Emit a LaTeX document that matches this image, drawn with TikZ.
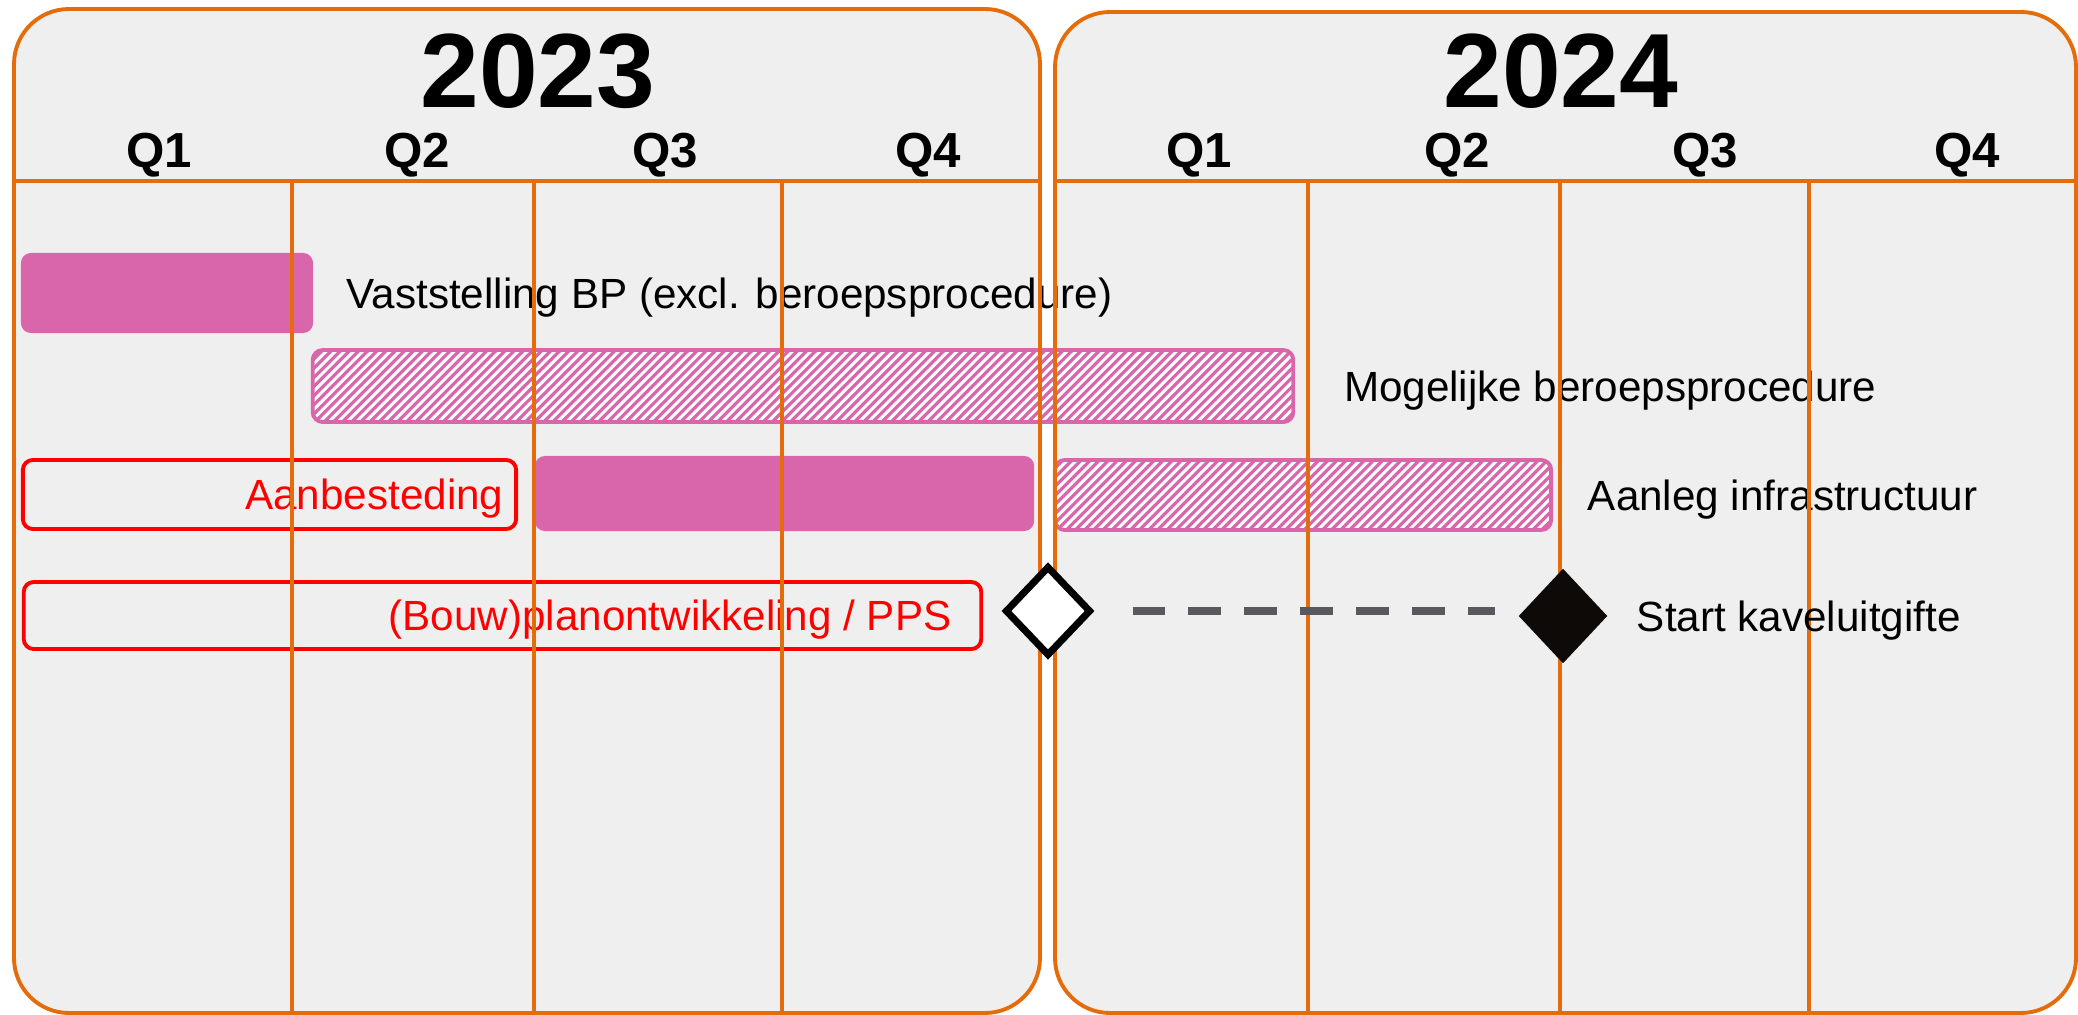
\documentclass[tikz,border=0pt]{standalone}
\usepackage{fontspec}
\setmainfont{Liberation Sans}
\usetikzlibrary{positioning,shapes.geometric}
\definecolor{planorange}{RGB}{228,108,10}
\definecolor{planpink}{RGB}{217,102,171}
\definecolor{planred}{RGB}{255,0,0}
\definecolor{planback}{RGB}{239,239,239}
\definecolor{dashgrey}{RGB}{88,89,94}
\definecolor{milestone}{RGB}{13,10,8}
\tikzset{
  panelbg/.style={fill=planback,rounded corners=0.55cm},
  panelrim/.style={draw=planorange,line width=1.1pt,rounded corners=0.55cm},
  qline/.style={draw=planorange,line width=0.95pt},
  headline/.style={draw=planorange,line width=1.2pt},
  year/.style={font=\fontsize{30}{32}\selectfont\bfseries,inner sep=0pt,anchor=base},
  quarter/.style={font=\fontsize{14}{16}\selectfont\bfseries,inner sep=0pt,anchor=base},
  solidbar/.style={fill=planpink,rounded corners=0.1cm,inner sep=0pt,outer sep=0pt},
  hatchbar/.style={draw=planpink,line width=1.1pt,fill=white,rounded corners=0.1cm,inner sep=0pt,outer sep=0pt,
    path picture={\foreach \k in {0,...,125}
      \draw[planpink,line width=0.9pt,sharp corners] ([xshift=\k*2.6pt-0.8cm]path picture bounding box.south west) -- ++(1cm,1cm);}},
  redbox/.style={draw=planred,line width=1.1pt,rounded corners=0.1cm,inner sep=0pt,outer sep=0pt},
  lbl/.style={font=\fontsize{12}{14}\selectfont,inner sep=0pt,yshift=-0.045cm},
  redlbl/.style={lbl,text=planred,anchor=east},
  openmile/.style={diamond,draw=black,fill=white,line width=2pt,inner sep=0pt},
  closedmile/.style={diamond,fill=milestone,inner sep=0pt},
  future/.style={draw=dashgrey,line width=2pt,dash pattern=on 9.2pt off 6.7pt}
}
\begin{document}
\begin{tikzpicture}[x=0.01cm,y=-0.01cm]
\useasboundingbox (0,0) rectangle (2078,1015);
\path[panelbg] (14,9) rectangle (1040,1013);
\path[panelbg] (1055,12) rectangle (2076,1013);
\node[year] (y2023) at (538,107) {2023};
\node[year] (y2024) at (1561,107) {2024};
\node[quarter] (q1a) at (159,167) {Q1};
\node[quarter] (q2a) at (417,167) {Q2};
\node[quarter] (q3a) at (665,167) {Q3};
\node[quarter] (q4a) at (928,167) {Q4};
\node[quarter] (q1b) at (1199,167) {Q1};
\node[quarter] (q2b) at (1457,167) {Q2};
\node[quarter] (q3b) at (1705,167) {Q3};
\node[quarter] (q4b) at (1967,167) {Q4};
\node[solidbar,minimum width=2.92cm,minimum height=0.8cm] (vast) at (167,293) {};
\node[lbl,right=0.33cm of vast] (vastlbl) {Vaststelling BP (excl. beroepsprocedure)};
\node[hatchbar,minimum width=9.8cm,minimum height=0.72cm] (beroep) at (803,386) {};
\node[lbl,right=0.5cm of beroep] (beroeplbl) {Mogelijke beroepsprocedure};
\node[redbox,minimum width=4.93cm,minimum height=0.69cm] (aanb) at (269.5,494.5) {};
\node[redlbl] (aanblbl) at ([xshift=-0.12cm]aanb.east) {Aanbesteding};
\node[solidbar,minimum width=4.99cm,minimum height=0.75cm] (aanbbar) at (784.5,493.5) {};
\node[hatchbar,minimum width=4.96cm,minimum height=0.7cm] (aanleg) at (1303,495) {};
\node[lbl,right=0.36cm of aanleg] (aanleglbl) {Aanleg infrastructuur};
\node[redbox,minimum width=9.57cm,minimum height=0.67cm] (bouw) at (502.5,615.5) {};
\node[redlbl] (bouwlbl) at ([xshift=-0.29cm]bouw.east) {(Bouw)planontwikkeling / PPS};
\draw[panelrim] (14,9) rectangle (1040,1013);
\draw[panelrim] (1055,12) rectangle (2076,1013);
\draw[headline] (14,181) -- (1040,181);
\draw[headline] (1055,181) -- (2076,181);
\draw[qline] (292,181) -- (292,1013);
\draw[qline] (534,181) -- (534,1013);
\draw[qline] (782,181) -- (782,1013);
\draw[qline] (1308,181) -- (1308,1013);
\draw[qline] (1560,181) -- (1560,1013);
\draw[qline] (1809,181) -- (1809,1013);
\node[openmile,minimum width=0.86cm,minimum height=0.9cm] (start) at (1048,611) {};
\node[closedmile,minimum width=0.89cm,minimum height=0.95cm] (kavel) at (1563,616) {};
\node[lbl,right=0.28cm of kavel] (kavellbl) {Start kaveluitgifte};
\draw[future,shorten <=0.38cm,shorten >=0.23cm] (start.east) -- (start.east -| kavel.west);
\end{tikzpicture}
\end{document}
